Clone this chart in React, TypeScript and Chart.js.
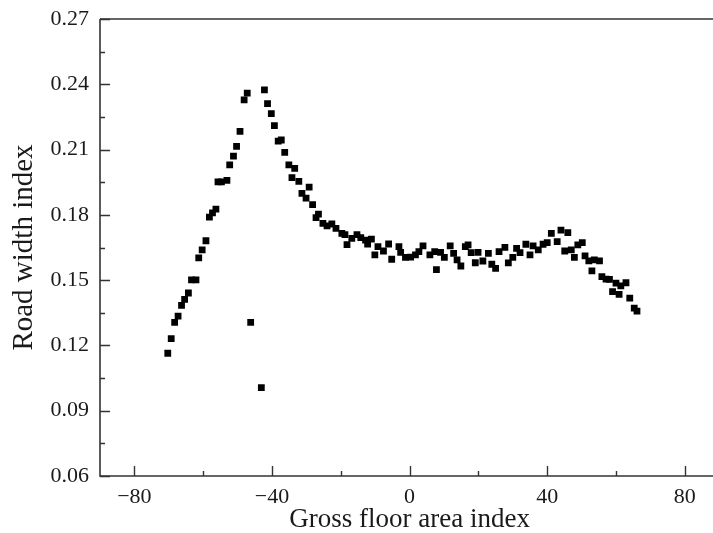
import React, { useEffect, useRef } from "react";
import { Chart, registerables } from "chart.js";

Chart.register(...registerables);

// Gross floor area index (x) and road width index (y)
const xValues: number[] = [
  -70.3, -69.3, -68.3, -67.3, -66.3, -65.4, -64.3, -63.4, -62.1, -61.3,
  -60.3, -59.2, -58.2, -57.3, -56.3, -55.7, -54.7, -53.1, -52.3, -51.2,
  -50.3, -49.3, -48.1, -47.2, -46.2, -43.1, -42.2, -41.3, -40.2, -39.3,
  -38.2, -37.3, -36.3, -35.1, -34.2, -33.4, -32.2, -31.3, -30.1, -29.2,
  -28.2, -27.2, -26.5, -25.2, -24.0, -22.6, -21.4, -19.7, -18.8, -18.2,
  -16.8, -15.3, -14.2, -12.8, -12.2, -11.1, -10.1, -9.2, -7.6, -6.1,
  -5.2, -3.1, -2.6, -1.2, 0.3, 1.7, 2.7, 3.9, 5.9, 7.3,
  7.8, 9.0, 10.1, 11.8, 12.8, 13.8, 14.9, 16.2, 17.0, 17.9,
  19.1, 19.9, 21.3, 22.9, 23.9, 25.0, 26.0, 27.7, 28.7, 30.0,
  31.1, 32.1, 33.8, 35.0, 35.9, 37.4, 38.8, 40.0, 41.2, 42.9,
  44.0, 45.1, 46.0, 47.0, 47.9, 48.9, 50.2, 51.0, 52.1, 53.0,
  53.7, 55.2, 55.9, 57.1, 58.1, 59.0, 60.0, 60.9, 61.4, 62.9,
  64.0, 65.3, 66.1,
];
const yValues: number[] = [
  0.1164, 0.1231, 0.1306, 0.1335, 0.1384, 0.1412, 0.1441, 0.1501, 0.1501, 0.1602,
  0.1639, 0.1681, 0.179, 0.1809, 0.1826, 0.1952, 0.1952, 0.1958, 0.203, 0.207,
  0.2115, 0.2184, 0.2328, 0.2359, 0.1306, 0.1006, 0.2374, 0.2311, 0.2265, 0.221,
  0.2139, 0.2144, 0.2087, 0.203, 0.1971, 0.2014, 0.1954, 0.1899, 0.1877, 0.1927,
  0.1847, 0.1787, 0.1803, 0.1761, 0.1749, 0.1758, 0.1738, 0.1715, 0.1709, 0.1663,
  0.1692, 0.1709, 0.1695, 0.1684, 0.1666, 0.1688, 0.1616, 0.1654, 0.1634, 0.1666,
  0.1596, 0.1654, 0.1628, 0.1605, 0.1606, 0.1616, 0.1631, 0.1657, 0.1616, 0.1631,
  0.1548, 0.1628, 0.1605, 0.1657, 0.1623, 0.1593, 0.1565, 0.1654, 0.1662, 0.1626,
  0.158, 0.1628, 0.1588, 0.1623, 0.1573, 0.1554, 0.1631, 0.1651, 0.1579, 0.1605,
  0.1646, 0.1626, 0.1665, 0.1616, 0.1657, 0.1639, 0.1665, 0.1672, 0.1715, 0.1677,
  0.173, 0.1634, 0.1718, 0.1639, 0.1605, 0.1662, 0.1672, 0.1612, 0.1589, 0.1543,
  0.1593, 0.1589, 0.1516, 0.1505, 0.1504, 0.1447, 0.1486, 0.1435, 0.1474, 0.1488,
  0.1417, 0.1371, 0.1358,
];

const xMajorTicks: number[] = [-80, -40, 0, 40, 80];
const xMinorTicks: number[] = [-60, -20, 20, 60];
const yMajorTicks: number[] = [0.06, 0.09, 0.12, 0.15, 0.18, 0.21, 0.24, 0.27];
const yMinorTicks: number[] = [0.075, 0.105, 0.135, 0.165, 0.195, 0.225, 0.255];

const xTitle = "Gross floor area index";
const yTitle = "Road width index";

const AXIS_COLOR = "#333333";
const TEXT_COLOR = "#1a1a1a";
const FONT = "'Liberation Serif', 'DejaVu Serif', serif";

const axesPlugin = {
  id: "customAxes",
  afterDraw(chart: any) {
    const { ctx, chartArea, scales } = chart;
    const { left, right, top, bottom } = chartArea;
    const xs = scales.x;
    const ys = scales.y;
    ctx.save();
    ctx.strokeStyle = AXIS_COLOR;
    ctx.lineWidth = 1.6;
    ctx.beginPath();
    ctx.moveTo(left, top);
    ctx.lineTo(left, bottom);
    ctx.lineTo(right, bottom);
    ctx.moveTo(left, top);
    ctx.lineTo(right, top);
    ctx.lineTo(right, bottom);
    ctx.stroke();
    ctx.lineWidth = 1.4;
    ctx.beginPath();
    xMajorTicks.forEach((v) => {
      const px = Math.round(xs.getPixelForValue(v)) + 0.5;
      ctx.moveTo(px, bottom);
      ctx.lineTo(px, bottom - 10);
    });
    xMinorTicks.forEach((v) => {
      const px = Math.round(xs.getPixelForValue(v)) + 0.5;
      ctx.moveTo(px, bottom);
      ctx.lineTo(px, bottom - 5);
    });
    yMajorTicks.forEach((v) => {
      const py = Math.round(ys.getPixelForValue(v)) + 0.5;
      ctx.moveTo(left, py);
      ctx.lineTo(left + 10, py);
    });
    yMinorTicks.forEach((v) => {
      const py = Math.round(ys.getPixelForValue(v)) + 0.5;
      ctx.moveTo(left, py);
      ctx.lineTo(left + 5, py);
    });
    ctx.stroke();
    ctx.restore();
  },
};

export default function App() {
  const canvasRef = useRef<HTMLCanvasElement | null>(null);

  useEffect(() => {
    const canvas = canvasRef.current;
    if (!canvas) return;
    const points = xValues.map((x, i) => ({ x, y: yValues[i] }));
    const chart = new Chart(canvas, {
      type: "scatter",
      data: {
        datasets: [
          {
            data: points,
            pointStyle: "rect",
            pointRadius: 4.8,
            pointBorderWidth: 0,
            backgroundColor: "#000000",
            borderColor: "#000000",
          },
        ],
      },
      options: {
        responsive: false,
        animation: false,
        events: [],
        layout: { padding: { top: 19, right: 0, bottom: 0, left: 0 } },
        plugins: {
          legend: { display: false },
          tooltip: { enabled: false },
        },
        scales: {
          x: {
            type: "linear",
            min: -90,
            max: 90,
            grid: { display: false },
            border: { display: false },
            afterBuildTicks: (scale: any) => {
              scale.ticks = xMajorTicks.map((v) => ({ value: v }));
            },
            afterFit: (scale: any) => {
              scale.height = 57;
            },
            ticks: {
              color: TEXT_COLOR,
              padding: 0,
              maxRotation: 0,
              autoSkip: false,
              font: { family: FONT, size: 22 },
              callback: (v: any) => (Number(v) < 0 ? "\u2212" + Math.abs(Number(v)) : String(v)),
            },
            title: {
              display: true,
              text: xTitle,
              color: TEXT_COLOR,
              font: { family: FONT, size: 27, lineHeight: 1.0 },
              padding: { top: 0, bottom: 0 },
            },
          },
          y: {
            type: "linear",
            min: 0.06,
            max: 0.27,
            grid: { display: false },
            border: { display: false },
            afterBuildTicks: (scale: any) => {
              scale.ticks = yMajorTicks.map((v) => ({ value: v }));
            },
            afterFit: (scale: any) => {
              scale.width = 100;
            },
            ticks: {
              color: TEXT_COLOR,
              padding: 3,
              autoSkip: false,
              font: { family: FONT, size: 22 },
              callback: (v: any) => Number(v).toFixed(2),
            },
            title: {
              display: true,
              text: yTitle,
              color: TEXT_COLOR,
              font: { family: FONT, size: 29, lineHeight: 1.0 },
              padding: { top: 10, bottom: 0 },
            },
          },
        },
      },
      plugins: [axesPlugin],
    });
    return () => chart.destroy();
  }, []);

  return (
    <div
      style={{
        position: "absolute",
        left: 0,
        top: 0,
        width: 713,
        height: 533,
        overflow: "hidden",
        background: "#ffffff",
      }}
    >
      <canvas ref={canvasRef} width={724} height={533} style={{ display: "block" }} />
    </div>
  );
}
